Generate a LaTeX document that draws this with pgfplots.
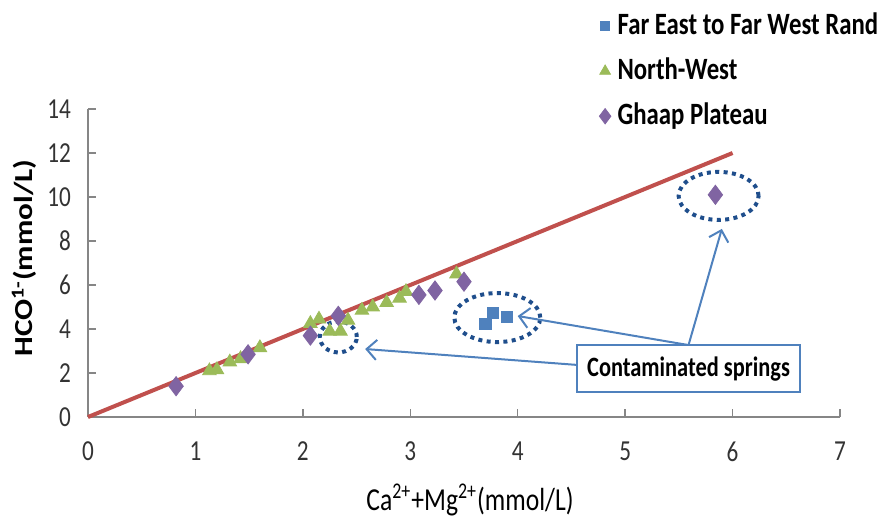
\documentclass[border=0pt]{standalone}
\usepackage{fontspec}
\setmainfont{Carlito}[FakeStretch=0.8]
\newfontfamily\ylabfont{Carlito}[FakeStretch=1.2]
\usepackage{pgfplots}
\pgfplotsset{compat=1.18}
\usetikzlibrary{arrows.meta}
\definecolor{sblue}{HTML}{4F81BD}
\definecolor{sgreen}{HTML}{9BBB59}
\definecolor{spurple}{HTML}{8064A2}
\definecolor{sred}{HTML}{C0504D}
\definecolor{axgray}{HTML}{868686}
\definecolor{dotblue}{HTML}{1F4E8C}
\begin{document}
\begin{tikzpicture}
\useasboundingbox (-44pt,-51.5pt) rectangle (396.5pt,208.5pt);
\begin{axis}[
  at={(0pt,0pt)}, anchor=south west,
  scale only axis, width=376pt, height=154pt,
  xmin=0, xmax=7, ymin=0, ymax=14,
  axis lines=left,
  axis line style={draw=axgray, line width=0.7pt, -},
  tick align=inside, major tick length=4pt,
  tick style={draw=axgray, line width=0.7pt},
  xtick={0,1,...,7}, ytick={0,2,...,14},
  /pgf/number format/assume math mode=true,
  ticklabel style={font=\fontsize{14.5}{16}\selectfont, text=black!80},
  xticklabel style={yshift=-9pt},
  yticklabel style={xshift=-5pt},
  xlabel={Ca\textsuperscript{2+}+Mg\textsuperscript{2+}(mmol/L)},
  xlabel style={at={(axis description cs:0.508,-0.27)}, anchor=center, font=\fontsize{16}{18}\selectfont},
  ylabel={\ylabfont\bfseries HCO\textsuperscript{1-}(mmol/L)},
  ylabel style={at={(axis description cs:-0.085,0.516)}, anchor=center, rotate=0, font=\fontsize{13}{15}\selectfont},
  clip=false,
  legend style={at={(axis description cs:0.668,1.335)}, anchor=north west, draw=none, fill=none,
    font=\bfseries\fontsize{15.5}{17}\selectfont, row sep=6.5pt,
    nodes={inner sep=1pt, text height=11pt, text depth=3pt}},
  legend cell align=left,
  legend image code/.code={\draw[#1, every mark/.append style={scale=0.8}] plot coordinates {(4pt,0pt)}; \path (0pt,0pt) (9pt,0pt);},
]
\addplot[sred, line width=2pt, forget plot] coordinates {(0,0) (6,12)};

\addplot[only marks, mark=square*, mark size=2.8pt, color=sblue] coordinates {
(3.70,4.25) (3.77,4.75) (3.90,4.55)
};
\addlegendentry{Far East to Far West Rand}

\addplot[only marks, mark=triangle*, mark size=3.9pt, color=sgreen] coordinates {
(1.13,2.10) (1.20,2.15) (1.32,2.50) (1.42,2.65) (1.60,3.15)
(2.07,4.25) (2.15,4.45) (2.25,3.90) (2.35,3.90) (2.42,4.40)
(2.55,4.85) (2.65,5.00) (2.78,5.20) (2.90,5.40) (2.96,5.70) (3.43,6.50)
};
\addlegendentry{North-West}

\addplot[only marks, mark=diamond*, mark size=4.8pt, color=spurple] coordinates {
(0.82,1.40) (1.49,2.85) (2.07,3.70) (2.33,4.60) (3.08,5.55) (3.23,5.75) (3.50,6.15) (5.84,10.10)
};
\addlegendentry{Ghaap Plateau}

% annotations
\draw[dotblue, line width=2pt, dash pattern=on 2pt off 2.2pt] (axis cs:2.33,3.64) ellipse [x radius=9.25pt, y radius=7.75pt];
\draw[dotblue, line width=2pt, dash pattern=on 2pt off 2.2pt] (axis cs:3.81,4.52) ellipse [x radius=21.5pt, y radius=12.25pt];
\draw[dotblue, line width=2pt, dash pattern=on 2pt off 2.2pt] (axis cs:5.87,10.05) ellipse [x radius=20pt, y radius=12pt];

\draw[sblue, line width=1pt, -{Straight Barb[length=5pt,width=10pt]}] (axis cs:4.60,2.35) -- (axis cs:2.58,3.09);
\draw[sblue, line width=1pt, -{Straight Barb[length=5pt,width=10pt]}] (axis cs:5.59,3.27) -- (axis cs:4.00,4.59);
\draw[sblue, line width=1pt, -{Straight Barb[length=5pt,width=10pt]}] (axis cs:5.59,3.27) -- (axis cs:5.90,8.55);

\node[draw=sblue, line width=1pt, fill=white, minimum width=111.5pt, minimum height=23.5pt, inner sep=0pt,
  font=\bfseries\fontsize{14}{16}\selectfont] at (axis cs:5.59,2.20) {Contaminated springs};
\end{axis}
\end{tikzpicture}
\end{document}
